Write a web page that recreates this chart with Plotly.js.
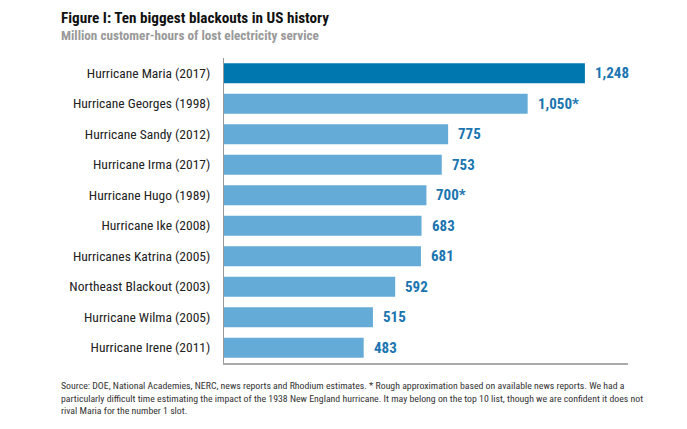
<!DOCTYPE html>
<html><head><meta charset="utf-8">
<script src="https://cdn.plot.ly/plotly-3.0.1.min.js"></script>
<style>body{margin:0;background:#fff}#c{width:687px;height:429px}</style>
</head><body><div id="c"></div>
<script>
const categories = ["Hurricane Maria (2017)","Hurricane Georges (1998)","Hurricane Sandy (2012)","Hurricane Irma (2017)","Hurricane Hugo (1989)","Hurricane Ike (2008)","Hurricanes Katrina (2005)","Northeast Blackout (2003)","Hurricane Wilma (2005)","Hurricane Irene (2011)"];
const values = [1248,1050,775,753,700,683,681,592,515,483];
const valueLabels = ["1,248","1,050*","775","753","700*","683","681","592","515","483"];
const highlight = [true,false,false,false,false,false,false,false,false,false];

const F = "'Liberation Sans Narrow','Roboto Condensed','Arial Narrow',Roboto,sans-serif";
const colors = highlight.map(h => h ? "#0077ae" : "#65abd8");

const trace = {
  type: "bar", orientation: "h",
  x: values, y: categories,
  marker: {color: colors, line: {width: 0}},
  hoverinfo: "none"
};
const annotations = values.map((v,i) => ({
  x: v, y: categories[i], xref: "x", yref: "y",
  text: "<b>" + valueLabels[i] + "</b>", showarrow: false,
  xanchor: "left", xshift: 8,
  font: {family: F, size: 15, color: "#1a75b0"}
}));
annotations.push(
  {xref:"paper", yref:"paper", x:-0.409, y:1.131, xanchor:"left", yanchor:"middle",
   text:"<b>Figure I: Ten biggest blackouts in US history</b>", showarrow:false,
   font:{family:F, size:15.2, color:"#111"}},
  {xref:"paper", yref:"paper", x:-0.409, y:1.075, xanchor:"left", yanchor:"middle",
   text:"<b>Million customer-hours of lost electricity service</b>", showarrow:false,
   font:{family:F, size:13.2, color:"#999"}},
  {xref:"paper", yref:"paper", x:-0.409, y:-0.05, xanchor:"left", yanchor:"top", align:"left",
   text:"Source: DOE, National Academies, NERC, news reports and Rhodium estimates. * Rough approximation based on available news reports. We had a<br>particularly difficult time estimating the impact of the 1938 New England hurricane. It may belong on the top 10 list, though we are confident it does not<br>rival Maria for the number 1 slot.",
   showarrow:false, font:{family:F, size:9.8, color:"#333"}}
);

const layout = {
  width: 687, height: 429,
  margin: {l: 224, r: 59, t: 58, b: 66, pad: 0},
  paper_bgcolor: "#fff", plot_bgcolor: "#fff",
  bargap: 0.34,
  showlegend: false,
  xaxis: {range: [0, 1397], showgrid: false, zeroline: false, showticklabels: false,
          showline: true, linecolor: "#aaa", linewidth: 1.5, ticks: "", fixedrange: true},
  yaxis: {autorange: "reversed", showgrid: false, zeroline: false,
          showline: true, linecolor: "#999", linewidth: 1, ticks: "outside", ticklen: 10, tickcolor: "rgba(0,0,0,0)",
          tickfont: {family: F, size: 13.5, color: "#222"}},
  annotations: annotations
};
Plotly.newPlot("c", [trace], layout, {staticPlot: true});
</script></body></html>
